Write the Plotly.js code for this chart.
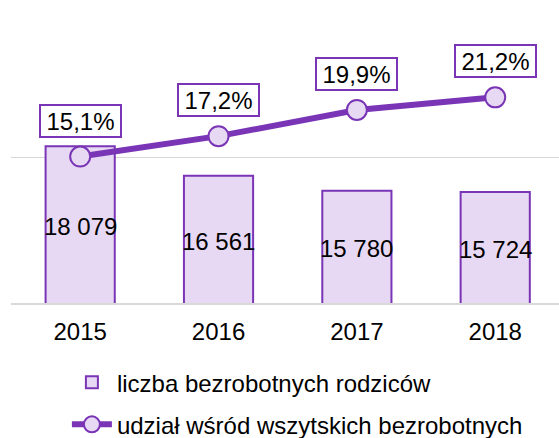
<!DOCTYPE html>
<html>
<head>
<meta charset="utf-8">
<script src="https://cdn.plot.ly/plotly-3.0.1.min.js"></script>
<style>html,body{margin:0;padding:0;background:#fff;}#chart{width:559px;height:438px;}</style>
</head>
<body>
<div id="chart"></div>
<script>
var years = ['2015', '2016', '2017', '2018'];
var unemployedParents = [18079, 16561, 15780, 15724];
var shareOfAllUnemployed = [15.1, 17.2, 19.9, 21.2];
var seriesNames = ['liczba bezrobotnych rodziców', 'udział wśród wszytskich bezrobotnych'];

var purple = '#7A35B6';
var lavender = '#E7D9F3';
var fontFamily = 'Liberation Sans, Arial, sans-serif';
var countAxisRange = [10000, 25000];
var shareAxisRange = [0, 30];

function fmtCount(v) {
  return String(v).replace(/\B(?=(\d{3})+(?!\d))/g, ' ');
}
function fmtShare(v) {
  return v.toFixed(1).replace('.', ',') + '%';
}

var bars = {
  type: 'bar',
  name: seriesNames[0],
  x: years,
  y: unemployedParents,
  width: 0.5,
  marker: {color: lavender, line: {color: purple, width: 2}},
  legendgroup: 'a',
  hoverinfo: 'skip'
};

var line = {
  type: 'scatter',
  mode: 'lines+markers',
  name: seriesNames[1],
  x: years,
  y: shareOfAllUnemployed,
  yaxis: 'y2',
  line: {color: purple, width: 6},
  marker: {size: 20, color: lavender, line: {color: purple, width: 2}},
  legendgroup: 'b',
  hoverinfo: 'skip'
};

// category axis: annotations are placed by category index
var shareLabels = years.map(function (yr, i) {
  return {
    x: i,
    y: shareOfAllUnemployed[i],
    xref: 'x',
    yref: 'y2',
    text: fmtShare(shareOfAllUnemployed[i]),
    showarrow: false,
    yshift: 36,
    width: 79,
    height: 30,
    borderpad: 0,
    borderwidth: 2,
    bordercolor: purple,
    bgcolor: '#fff',
    font: {family: fontFamily, size: 24, color: '#000'}
  };
});

// value labels centred in the visible part of each bar
var countLabels = years.map(function (yr, i) {
  return {
    x: i,
    y: (countAxisRange[0] + unemployedParents[i]) / 2,
    xref: 'x',
    yref: 'y',
    text: fmtCount(unemployedParents[i]),
    showarrow: false,
    yshift: -2,
    font: {family: fontFamily, size: 24, color: '#000'}
  };
});

var layout = {
  width: 559,
  height: 438,
  margin: {l: 11, r: 0, t: 12, b: 135, autoexpand: false},
  paper_bgcolor: '#fff',
  plot_bgcolor: '#fff',
  font: {family: fontFamily, size: 24, color: '#000'},
  showlegend: true,
  legend: {
    xref: 'paper', yref: 'paper',
    x: 0.102, xanchor: 'left',
    y: -0.196, yanchor: 'top',
    orientation: 'v',
    traceorder: 'grouped',
    tracegroupgap: 8,
    font: {family: fontFamily, size: 24, color: '#000'},
    itemwidth: 40,
    bgcolor: 'rgba(0,0,0,0)'
  },
  xaxis: {
    type: 'category',
    range: [-0.5, 3.461],
    showgrid: false,
    zeroline: false,
    showline: true,
    linecolor: '#d9d9d9',
    linewidth: 1.5,
    ticks: '',
    ticklabelstandoff: 7,
    tickfont: {family: fontFamily, size: 24, color: '#000'}
  },
  yaxis: {
    range: countAxisRange,
    showgrid: false,
    zeroline: false,
    showticklabels: false,
    ticks: ''
  },
  yaxis2: {
    overlaying: 'y',
    side: 'right',
    range: shareAxisRange,
    dtick: 15,
    tick0: 0,
    showgrid: true,
    gridcolor: '#d9d9d9',
    gridwidth: 1.5,
    zeroline: false,
    showticklabels: false,
    ticks: ''
  },
  annotations: countLabels.concat(shareLabels)
};

Plotly.newPlot('chart', [bars, line], layout, {displayModeBar: false, staticPlot: true});
</script>
</body>
</html>
